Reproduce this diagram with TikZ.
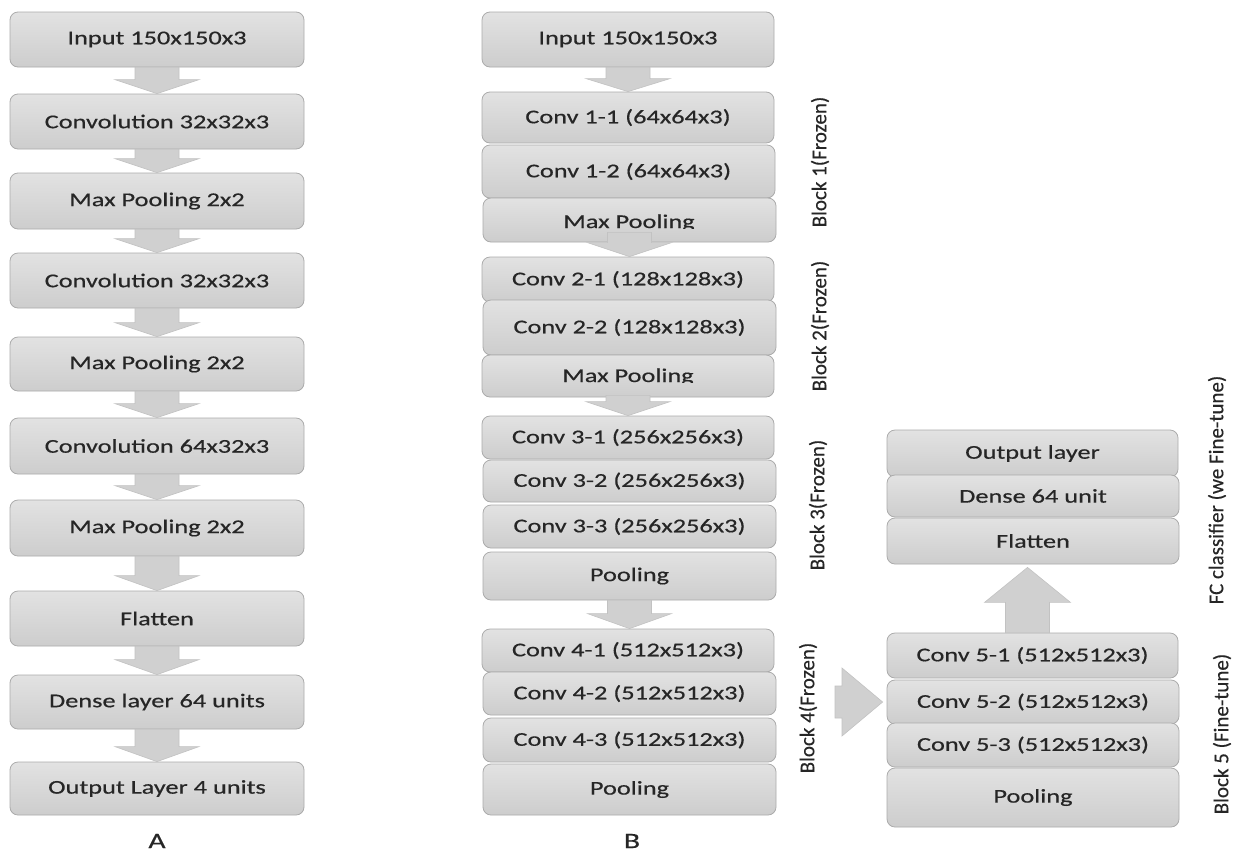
\documentclass[tikz,border=0pt]{standalone}
\usepackage{fontspec}
\usetikzlibrary{calc}
\newfontfamily\boxfont[FakeStretch=1.35,FakeBold=0.5]{Carlito}
\newfontfamily\lblfont[FakeBold=0.3]{Carlito}
\definecolor{boxtop}{HTML}{E2E2E2}
\definecolor{boxbot}{HTML}{CDCDCD}
\definecolor{boxline}{HTML}{ABABAB}
\definecolor{arrfill}{HTML}{D0D0D0}
\definecolor{arrline}{HTML}{C2C2C2}
\definecolor{txtcol}{HTML}{262626}
\tikzset{
  box/.style={draw=boxline, line width=0.8pt, rounded corners=8pt,
    top color=boxtop, bottom color=boxbot, inner sep=0pt},
  txt/.style={font=\boxfont\fontsize{19.5}{22}\selectfont, text=txtcol, inner sep=0pt},
  blockarrow/.style={fill=arrfill, draw=arrline, line width=0.6pt},
  sidelbl/.style={font=\lblfont\fontsize{21}{24}\selectfont, text=txtcol, rotate=90, inner sep=0pt},
  letter/.style={font=\boxfont\fontsize{22}{24}\selectfont, text=txtcol, inner sep=0pt}
}
% box: name, x1, y1, x2, y2, text
\newcommand\bx[6]{\node[box, txt, minimum width={#4-#2}, minimum height={#5-#3}] (#1) at ({(#2+#4)/2},{(#3+#5)/2}) {#6};}
% down block arrow: start, end(tip), head height
\newcommand\darr[3]{\path[blockarrow] let \p1=(#1), \p2=(#2) in
  (\x1-22pt,\y1) -- (\x1+22pt,\y1) -- (\x1+22pt,\y2+#3) -- (\x1+42pt,\y2+#3) -- (\x1,\y2)
  -- (\x1-42pt,\y2+#3) -- (\x1-22pt,\y2+#3) -- cycle;}
\begin{document}
\begin{tikzpicture}[x=1pt,y=-1pt]
\fill[white] (0,0) rectangle (1233,852);
\useasboundingbox (0,0) rectangle (1233,852);
% ---------- Column A ----------
\bx{a1}{10}{12}{304}{67}{Input 150x150x3}
\bx{a2}{10}{94}{304}{149}{Convolution 32x32x3}
\bx{a3}{10}{173}{304}{229}{Max Pooling 2x2}
\bx{a4}{10}{253}{304}{308}{Convolution 32x32x3}
\bx{a5}{10}{337}{304}{391}{Max Pooling 2x2}
\bx{a6}{10}{418}{304}{474}{Convolution 64x32x3}
\bx{a7}{10}{500}{304}{556}{Max Pooling 2x2}
\bx{a8}{10}{591}{304}{646}{Flatten}
\bx{a9}{10}{675}{304}{729}{Dense layer 64 units}
\bx{a10}{10}{762}{304}{815}{Output Layer 4 units}
\darr{a1.south}{a2.north}{14pt}
\darr{a2.south}{a3.north}{14pt}
\darr{a3.south}{a4.north}{14pt}
\darr{a4.south}{a5.north}{14pt}
\darr{a5.south}{a6.north}{14pt}
\darr{a6.south}{a7.north}{14pt}
\darr{a7.south}{a8.north}{15pt}
\darr{a8.south}{a9.north}{15pt}
\darr{a9.south}{a10.north}{15pt}
\node[letter] (labA) at (157,841) {A};
% ---------- Column B ----------
\bx{b0}{482}{12}{774}{67}{Input 150x150x3}
\bx{b11}{482}{92}{774}{143}{Conv 1-1 (64x64x3)}
\bx{b12}{482}{145}{775}{198}{Conv 1-2 (64x64x3)}
\bx{bm1}{483}{198}{776}{242}{}
\begin{scope}
\clip (483,198) rectangle (776,228.5);
\node[txt, anchor=base] (bm1t) at (629,228) {Max Pooling};
\end{scope}
\bx{b21}{482}{257}{774}{302}{Conv 2-1 (128x128x3)}
\bx{b22}{483}{300}{776}{355}{Conv 2-2 (128x128x3)}
\bx{bm2}{482}{355}{774}{397}{}
\begin{scope}
\clip (482,355) rectangle (774,382.5);
\node[txt, anchor=base] (bm2t) at (628,382) {Max Pooling};
\end{scope}
\bx{b31}{482}{416}{774}{459}{Conv 3-1 (256x256x3)}
\bx{b32}{483}{460}{776}{502}{Conv 3-2 (256x256x3)}
\bx{b33}{483}{505}{776}{548}{Conv 3-3 (256x256x3)}
\bx{bp3}{483}{552}{776}{600}{Pooling}
\bx{b41}{482}{629}{774}{672}{Conv 4-1 (512x512x3)}
\bx{b42}{483}{672}{776}{715}{Conv 4-2 (512x512x3)}
\bx{b43}{483}{718}{776}{762}{Conv 4-3 (512x512x3)}
\bx{bp4}{483}{764}{776}{815}{Pooling}
\darr{b0.south}{b11.north}{13pt}
\darr{[yshift=10pt]bm1.south}{b21.north}{14pt}
\darr{[yshift=2pt]bm2.south}{b31.north}{14pt}
\darr{bp3.south}{b41.north}{15pt}
\node[letter] (labB) at (632,841) {B};
\node[sidelbl] (lb1) at (820,162) {Block 1(Frozen)};
\node[sidelbl] (lb2) at (820,326) {Block 2(Frozen)};
\node[sidelbl] (lb3) at (818,505) {Block 3(Frozen)};
\node[sidelbl] (lb4) at (808,708) {Block 4(Frozen)};
% ---------- Column C ----------
\bx{cout}{887}{430}{1178}{477}{Output layer}
\bx{cden}{887}{475}{1179}{517}{Dense 64 unit}
\bx{cfla}{887}{518}{1179}{564}{Flatten}
\bx{c51}{887}{633}{1178}{678}{Conv 5-1 (512x512x3)}
\bx{c52}{887}{680}{1179}{724}{Conv 5-2 (512x512x3)}
\bx{c53}{887}{723}{1179}{767}{Conv 5-3 (512x512x3)}
\bx{cp5}{887}{768}{1179}{827}{Pooling}
\node[sidelbl] (lfc) at (1217,490) {FC classifier (we Fine-tune)};
\node[sidelbl] (lb5) at (1222,734) {Block 5 (Fine-tune)};
% up arrow Block 5 -> FC
\path[blockarrow] let \p1=([xshift=-5pt]c51.north), \p2=([xshift=-5pt,yshift=-3pt]cfla.south) in
  (\x1-22pt,\y1) -- (\x1+22pt,\y1) -- (\x1+22pt,\y2-35pt) -- (\x1+43pt,\y2-35pt) -- (\x1,\y2)
  -- (\x1-43pt,\y2-35pt) -- (\x1-22pt,\y2-35pt) -- cycle;
% right arrow Block 4 -> Block 5
\coordinate (ra) at (835,704);
\path[blockarrow] let \p1=(ra), \p2=([xshift=-4pt]c52.west) in
  (\x1,\y2+16pt) -- (\x1+7pt,\y2+16pt) -- (\x1+7pt,\y2+34pt) -- (\x2,\y2)
  -- (\x1+7pt,\y2-34pt) -- (\x1+7pt,\y2-16pt) -- (\x1,\y2-16pt) -- cycle;
\end{tikzpicture}
\end{document}
